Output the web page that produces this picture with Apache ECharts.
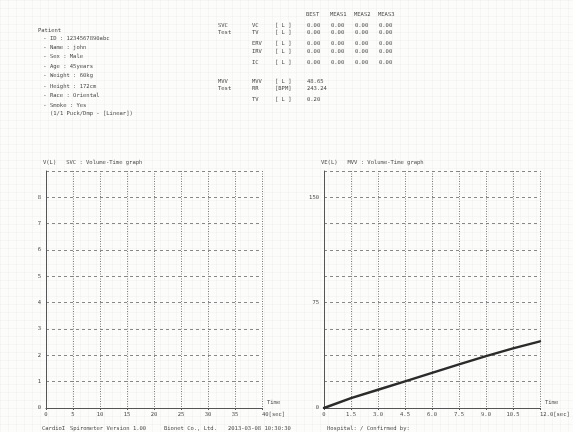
<!DOCTYPE html>
<html>
<head>
<meta charset="utf-8">
<script src="https://cdn.jsdelivr.net/npm/echarts@6/dist/echarts.min.js"></script>
<style>
html,body{margin:0;padding:0;background:#fbfbfa;}
#c{width:573px;height:432px;
background-color:#fcfcfb;
background-image:linear-gradient(rgba(0,0,0,0.022) 1px,transparent 1px),linear-gradient(90deg,rgba(0,0,0,0.022) 1px,transparent 1px);
background-size:8px 8px;}
</style>
</head>
<body>
<div id="c"></div>
<script>
// ---- data ----
var patientLines = ['Patient', ' - ID : 1234567890abc', ' - Name : john', ' - Sex : Male', ' - Age : 45years', ' - Weight : 60kg', ' - Height : 172cm', ' - Race : Oriental', ' - Smoke : Yes'];
var patientNote = '(1/1 Puck/Dmp - [Linear])';
var tableHeader = ['BEST', 'MEAS1', 'MEAS2', 'MEAS3'];
var svcRows = [['VC', '[ L ]', '0.00', '0.00', '0.00', '0.00'], ['TV', '[ L ]', '0.00', '0.00', '0.00', '0.00'], ['ERV', '[ L ]', '0.00', '0.00', '0.00', '0.00'], ['IRV', '[ L ]', '0.00', '0.00', '0.00', '0.00'], ['IC', '[ L ]', '0.00', '0.00', '0.00', '0.00']];
var mvvRows = [['MVV', '[ L ]', '48.65'], ['RR', '[BPM]', '243.24'], ['TV', '[ L ]', '0.20']];
var footer = ['CardioI', 'Spirometer Version 1.00', 'Bionet Co., Ltd.', '2013-03-08 10:30:30', 'Hospital: / Confirmed by:'];
var svcTitle = 'V(L)   SVC : Volume-Time graph';
var mvvTitle = 'VE(L)   MVV : Volume-Time graph';
var svcXTicks = [0, 5, 10, 15, 20, 25, 30, 35, 40];
var svcData = [];
var mvvXTicks = [0, 1.5, 3.0, 4.5, 6.0, 7.5, 9.0, 10.5, 12.0];
var mvvYLabels = [0, 75, 150];
var mvvTime = [0, 1.5, 3.0, 4.5, 6.0, 7.5, 9.0, 10.5, 12.0];
var mvvVolume = [0, 7, 13, 19, 25, 31, 37, 42.5, 47.5];

// ---- layout ----
var FONT = '"DejaVu Sans Mono", "Liberation Mono", monospace';
var TC = '#4a4a4a';
var FS = 5.5;
var graphics = [];
function txt(x, y, s) {
  graphics.push({type: 'text', left: x, top: y, style: {text: s, fill: TC, font: FS + 'px ' + FONT}});
}
var py = [28, 36, 45, 54, 64, 73, 84, 93, 103];
patientLines.forEach(function (s, i) { txt(i === 0 ? 38 : 40, py[i], s); });
txt(50, 111, patientNote);

var colX = [306, 330, 354, 378];
tableHeader.forEach(function (h, i) { txt(colX[i], 12, h); });
txt(218, 23, 'SVC'); txt(218, 30, 'Test');
var svcY = [23, 30, 41, 49, 60];
svcRows.forEach(function (r, i) {
  txt(252, svcY[i], r[0]); txt(275, svcY[i], r[1]);
  for (var k = 0; k < 4; k++) txt(colX[k] + 1, svcY[i], r[2 + k]);
});
txt(218, 79, 'MVV'); txt(218, 86, 'Test');
var mvvY = [79, 86, 97];
mvvRows.forEach(function (r, i) {
  txt(252, mvvY[i], r[0]); txt(275, mvvY[i], r[1]); txt(colX[0] + 1, mvvY[i], r[2]);
});
var fx = [42, 70, 164, 228, 327];
footer.forEach(function (s, i) { txt(fx[i], 426, s); });
txt(43, 160, svcTitle);
txt(321, 160, mvvTitle);

function xAxis(idx, max, interval, fmt) {
  return {
    type: 'value', gridIndex: idx, min: 0, max: max, interval: interval,
    name: 'Time', nameLocation: 'end', nameGap: 5,
    nameTextStyle: {color: TC, fontSize: FS, fontFamily: FONT, align: 'left', verticalAlign: 'bottom', padding: [0, 0, 2, 0]},
    axisLine: {lineStyle: {color: '#555', width: 1}},
    axisTick: {show: true, length: 2, lineStyle: {color: '#555'}},
    axisLabel: {color: TC, fontSize: FS, fontFamily: FONT, margin: 4, alignMaxLabel: 'left',
      formatter: function (v) { return (Math.abs(v - max) < 1e-6 ? fmt(v) + '[sec]' : fmt(v)); }},
    splitLine: {show: true, lineStyle: {color: '#7a7a7a', type: [1, 1.5], width: 1}}
  };
}
function yAxis(idx, max, interval, fmt) {
  return {
    type: 'value', gridIndex: idx, min: 0, max: max, interval: interval,
    axisLine: {show: true, lineStyle: {color: '#555', width: 1}},
    axisTick: {show: false},
    axisLabel: {color: TC, fontSize: FS, fontFamily: FONT, margin: 5, formatter: fmt},
    splitLine: {show: true, lineStyle: {color: '#888', type: [3, 3], width: 1}}
  };
}

var chart = echarts.init(document.getElementById('c'), null, {renderer: 'canvas'});
chart.setOption({
  backgroundColor: 'transparent',
  animation: false,
  graphic: graphics,
  grid: [
    {left: 46, right: 311, top: 171, bottom: 24},
    {left: 324, right: 33, top: 171, bottom: 24}
  ],
  xAxis: [
    xAxis(0, 40, 5, function (v) { return String(v); }),
    xAxis(1, 12, 1.5, function (v) { return v === 0 ? '0' : v.toFixed(1); })
  ],
  yAxis: [
    yAxis(0, 9, 1, function (v) { return v >= 9 ? '' : String(v); }),
    yAxis(1, 168.75, 18.75, function (v) { return mvvYLabels.indexOf(v) >= 0 ? String(v) : ''; })
  ],
  series: [
    {type: 'line', xAxisIndex: 0, yAxisIndex: 0, data: svcData, showSymbol: false,
      lineStyle: {color: '#333', width: 2}},
    {type: 'line', xAxisIndex: 1, yAxisIndex: 1, showSymbol: false, smooth: false,
      data: mvvTime.map(function (t, i) { return [t, mvvVolume[i]]; }),
      lineStyle: {color: '#2b2b2b', width: 2.4, join: 'round', cap: 'round'}}
  ]
});
</script>
</body>
</html>
